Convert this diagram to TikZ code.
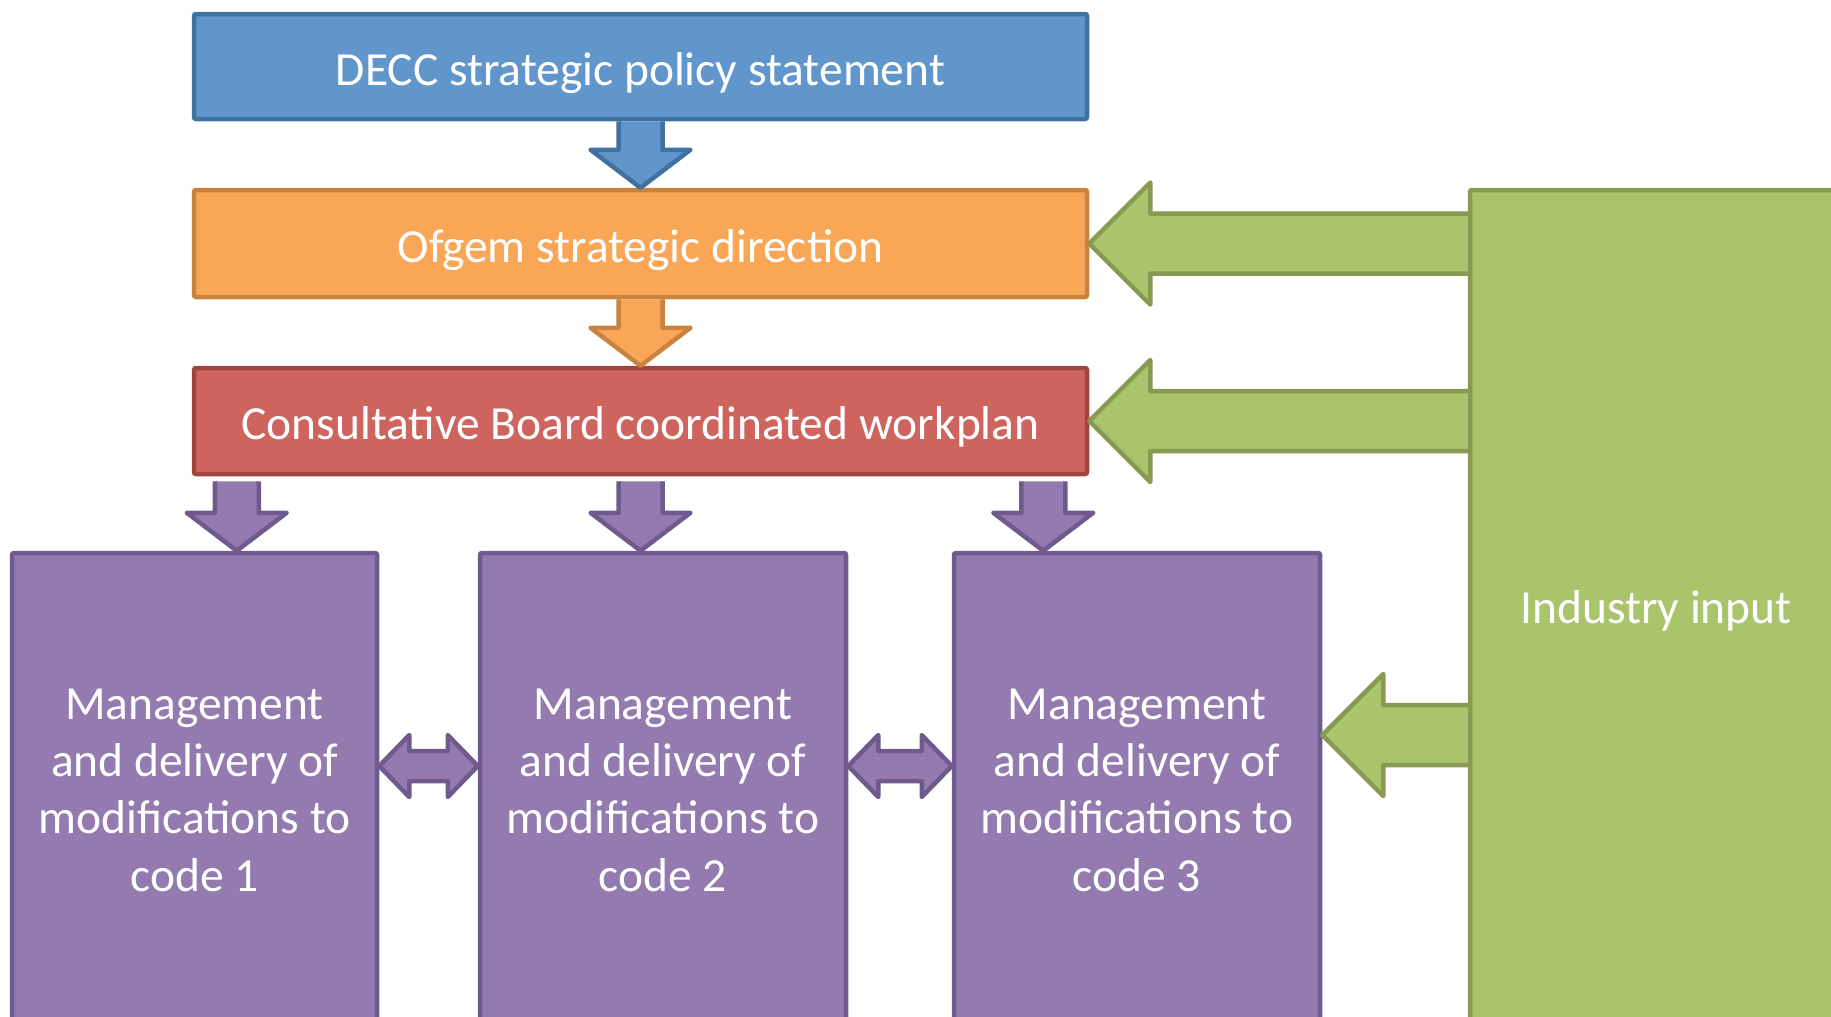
\documentclass[tikz,border=0pt]{standalone}
\usepackage{fontspec}
\setmainfont{Carlito}
\usetikzlibrary{calc}

\definecolor{decfill}{HTML}{6096CB}
\definecolor{decline}{HTML}{41719F}
\definecolor{ofgfill}{HTML}{F9A756}
\definecolor{ofgline}{HTML}{C9833F}
\definecolor{planfill}{HTML}{CD645E}
\definecolor{planline}{HTML}{A3433F}
\definecolor{codefill}{HTML}{937BB0}
\definecolor{codeline}{HTML}{6E5A8C}
\definecolor{indfill}{HTML}{AAC46C}
\definecolor{indline}{HTML}{879A50}

\tikzset{
  box/.style={draw, line width=4.5pt, rounded corners=2pt, text=white, align=center,
    font=\fontsize{47.5}{57.3}\selectfont, inner sep=0pt},
  oneline/.style={text height=37pt, text depth=0pt},
  blockarrow/.style={line width=4.5pt, line join=round}
}

% down block arrow: from start point to tip
\newcommand{\downblock}[3]{%
  \draw[blockarrow,#1] let \p1=(#2), \p2=(#3) in
    ({\x1-22pt},\y1) -- ({\x1-22pt},{\y2+38pt}) -- ({\x1-50pt},{\y2+38pt}) -- (\x1,\y2)
    -- ({\x1+50pt},{\y2+38pt}) -- ({\x1+22pt},{\y2+38pt}) -- ({\x1+22pt},\y1);}
% left block arrow: from start point to tip
\newcommand{\leftblock}[3]{%
  \draw[blockarrow,#1] let \p1=(#2), \p2=(#3) in
    (\x1,{\y2+30pt}) -- ({\x2+61pt},{\y2+30pt}) -- ({\x2+61pt},{\y2+61pt}) -- (\x2,\y2)
    -- ({\x2+61pt},{\y2-61pt}) -- ({\x2+61pt},{\y2-30pt}) -- (\x1,{\y2-30pt});}
% double block arrow between two points
\newcommand{\bothblock}[3]{%
  \draw[blockarrow,#1] let \p1=(#2), \p2=(#3) in
    (\x1,\y1) -- ({\x1+30pt},{\y1+31pt}) -- ({\x1+30pt},{\y1+15pt}) -- ({\x2-30pt},{\y1+15pt})
    -- ({\x2-30pt},{\y1+31pt}) -- (\x2,\y1) -- ({\x2-30pt},{\y1-31pt}) -- ({\x2-30pt},{\y1-15pt})
    -- ({\x1+30pt},{\y1-15pt}) -- ({\x1+30pt},{\y1-31pt}) -- cycle;}

\begin{document}
\begin{tikzpicture}[x=1pt,y=-1pt]

\useasboundingbox (0,0) rectangle (1831,1017);
\clip (0,0) rectangle (1831,1017);

% policy levels
\node[box, oneline, fill=decfill, draw=decline, minimum width=893, minimum height=105] (decc) at (640.5,66.5) {DECC strategic policy statement};
\node[box, oneline, fill=ofgfill, draw=ofgline, minimum width=893, minimum height=107] (ofgem) at (640.5,243.5) {Ofgem strategic direction};
\node[box, oneline, fill=planfill, draw=planline, minimum width=893, minimum height=106] (plan) at (640.5,421) {Consultative Board coordinated workplan};

% code boxes
\node[box, fill=codefill, draw=codeline, minimum width=365, minimum height=474] (code1) at (194.5,790) {Management\\and delivery of\\modifications to\\code 1};
\node[box, fill=codefill, draw=codeline, minimum width=366, minimum height=474] (code2) at (663,790) {Management\\and delivery of\\modifications to\\code 2};
\node[box, fill=codefill, draw=codeline, minimum width=366, minimum height=474] (code3) at (1137,790) {Management\\and delivery of\\modifications to\\code 3};

% industry
\node[box, text height=29pt, text depth=0pt, fill=indfill, draw=indline, minimum width=372, minimum height=837] (industry) at (1656,608.5) {Industry input};

% arrows down
\downblock{fill=decfill, draw=decline}{decc.south}{ofgem.north}
\downblock{fill=ofgfill, draw=ofgline}{ofgem.south}{plan.north}
\coordinate (p1) at ($(plan.south west)+(45,5)$);
\coordinate (p2) at ($(plan.south)+(0,5)$);
\coordinate (p3) at ($(plan.south east)+(-46,5)$);
\downblock{fill=codefill, draw=codeline}{p1}{p1 |- code1.north}
\downblock{fill=codefill, draw=codeline}{p2}{p2 |- code2.north}
\downblock{fill=codefill, draw=codeline}{p3}{p3 |- code3.north}

% arrows between codes
\coordinate (m1) at ($(code1.east)+(0,-24)$);
\coordinate (m2) at ($(code2.east)+(0,-24)$);
\bothblock{fill=codefill, draw=codeline}{m1}{code2.west}
\bothblock{fill=codefill, draw=codeline}{m2}{code3.west}

% industry input arrows
\coordinate (t3) at ($(code3.east)+(0,-55)$);
\leftblock{fill=indfill, draw=indline}{industry.west |- ofgem.east}{ofgem.east}
\leftblock{fill=indfill, draw=indline}{industry.west |- plan.east}{plan.east}
\leftblock{fill=indfill, draw=indline}{industry.west |- t3}{t3}

\end{tikzpicture}
\end{document}
